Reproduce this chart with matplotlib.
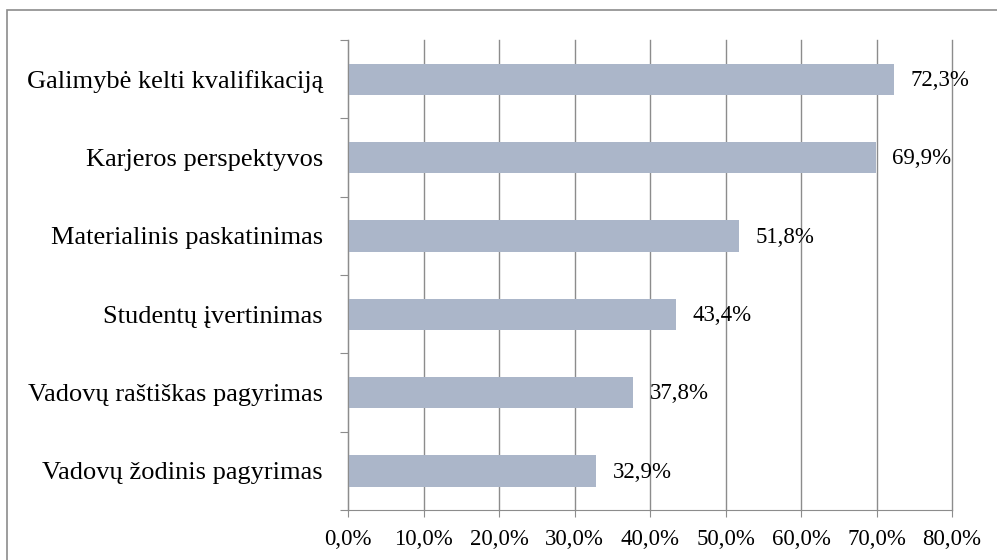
import matplotlib.pyplot as plt
from matplotlib.patches import Rectangle
from matplotlib.ticker import FixedLocator, NullFormatter

# duomenys (nuo viršaus į apačią)
categories = [
    "Galimybė kelti kvalifikaciją",
    "Karjeros perspektyvos",
    "Materialinis paskatinimas",
    "Studentų įvertinimas",
    "Vadovų raštiškas pagyrimas",
    "Vadovų žodinis pagyrimas",
]
values = [72.3, 69.9, 51.8, 43.4, 37.8, 32.9]
xticks = [0, 10, 20, 30, 40, 50, 60, 70, 80]
xtick_labels = ["0,0%", "10,0%", "20,0%", "30,0%", "40,0%", "50,0%", "60,0%", "70,0%", "80,0%"]

plt.rcParams["font.family"] = ["Liberation Serif", "DejaVu Serif"]

fig = plt.figure(figsize=(9.97, 5.6), dpi=100)
# rėmelis aplink diagramą
fig.patches.append(Rectangle((7 / 997, -0.1), 1.2, 1 - 10 / 560 + 0.1, transform=fig.transFigure,
                             fill=False, edgecolor="#8c8c8c", linewidth=1.2))

ax = fig.add_axes([348 / 997, 1 - 510 / 560, (952 - 348) / 997, (510 - 40) / 560])

ypos = list(range(len(categories)))
ax.barh(ypos, values, height=0.4, color="#abb6c9", zorder=2)
ax.set_ylim(len(categories) - 0.5, -0.5)
ax.set_xlim(0, 80)

for y, v in zip(ypos, values):
    ax.annotate(f"{v:.1f}%".replace(".", ","), (v, y), xytext=(12, -1), textcoords="offset points",
                va="center", ha="left", fontsize=16.5, zorder=3)

ax.set_xticks(xticks)
ax.set_xticklabels(xtick_labels, fontsize=16.5)
ax.tick_params(axis="x", length=5, color="#8c8c8c", pad=9)

ax.yaxis.set_major_locator(FixedLocator([i - 0.5 for i in range(len(categories) + 1)]))
ax.yaxis.set_major_formatter(NullFormatter())
ax.yaxis.set_minor_locator(FixedLocator(ypos))
ax.set_yticklabels(categories, minor=True, fontsize=19)
ax.tick_params(axis="y", which="major", length=6, color="#8c8c8c")
ax.tick_params(axis="y", which="minor", length=0, pad=18)

ax.grid(axis="x", color="#8c8c8c", linewidth=1.0, zorder=0)
for line in ax.get_xgridlines():
    line.set_clip_on(False)
for side in ["top", "right"]:
    ax.spines[side].set_visible(False)
for side in ["left", "bottom"]:
    ax.spines[side].set_color("#8c8c8c")

fig.savefig("out.png", dpi=100)
